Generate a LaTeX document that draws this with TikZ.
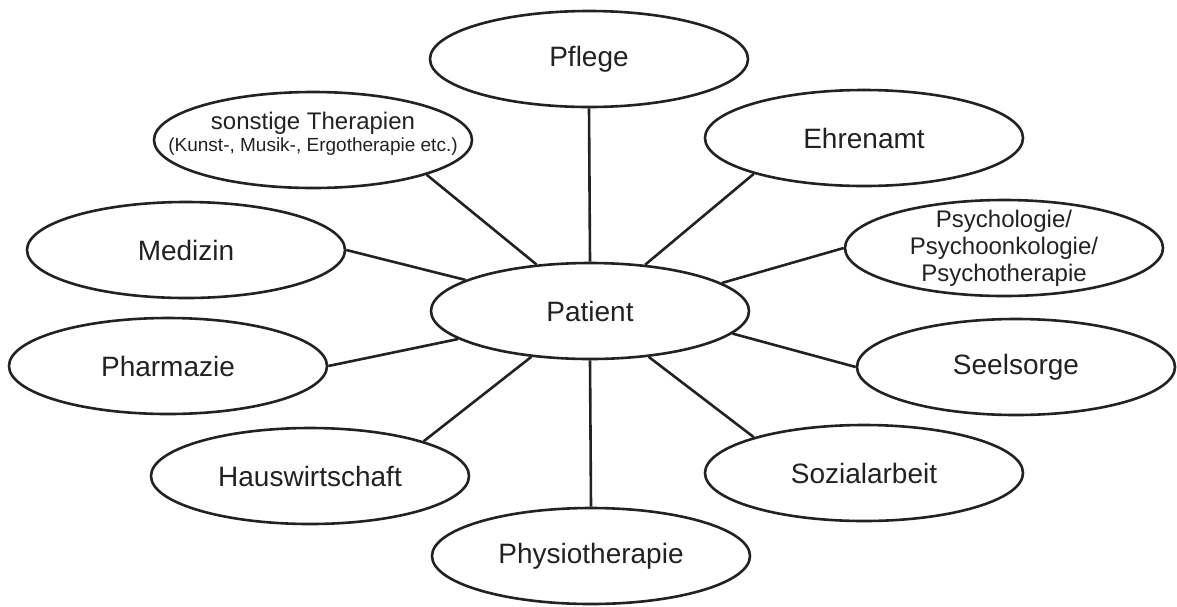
\documentclass[tikz,border=0pt]{standalone}
\usepackage{fontspec}
\setmainfont{Liberation Sans}
\usetikzlibrary{shapes.geometric}
\definecolor{ink}{HTML}{222222}
\begin{document}
\begin{tikzpicture}[x=1pt,y=-1pt,
  bubble/.style={ellipse, draw=ink, line width=2.6pt, minimum width=318pt, minimum height=96pt, inner sep=0pt, fill=white},
  lbl/.style={text=ink, font=\fontsize{28}{32}\selectfont, inner sep=0pt, align=center},
  mid/.style={text=ink, font=\fontsize{24}{27}\selectfont, inner sep=0pt, align=center},
  small/.style={text=ink, font=\fontsize{19}{22}\selectfont, inner sep=0pt, align=center},
  link/.style={draw=ink, line width=2.6pt}]
\useasboundingbox (0,0) rectangle (1177,606);

\node[bubble] (pflege) at (589,59) {};
\node[bubble] (ehrenamt) at (864,138) {};
\node[bubble] (sonstige) at (313,140) {};
\node[bubble] (medizin) at (186,250) {};
\node[bubble] (psych) at (1004,248) {};
\node[bubble] (patient) at (590,311) {};
\node[bubble] (pharmazie) at (168,366) {};
\node[bubble] (seelsorge) at (1016,367) {};
\node[bubble] (haus) at (310,476) {};
\node[bubble] (sozial) at (864,473) {};
\node[bubble] (physio) at (591,556) {};

\node[lbl] (pflege-t) at (pflege) {Pflege};
\node[lbl] (ehrenamt-t) at (ehrenamt) {Ehrenamt};
\node[mid] (sonstige-t1) at (313,123) {sonstige Therapien};
\node[small] (sonstige-t2) at (313,147) {(Kunst-, Musik-, Ergotherapie etc.)};
\node[lbl] (medizin-t) at (medizin) {Medizin};
\node[mid] (psych-t) at (psych) {Psychologie/\\Psychoonkologie/\\Psychotherapie};
\node[lbl] (patient-t) at (patient) {Patient};
\node[lbl] (pharmazie-t) at (pharmazie) {Pharmazie};
\node[lbl] (seelsorge-t) at (seelsorge) {Seelsorge};
\node[lbl] (haus-t) at (haus) {Hauswirtschaft};
\node[lbl] (sozial-t) at (sozial) {Sozialarbeit};
\node[lbl] (physio-t) at (physio) {Physiotherapie};

\draw[link] (pflege.south) -- (patient.north);
\draw[link] (sonstige.343) -- (patient.139);
\draw[link] (ehrenamt.198) -- (patient.40);
\draw[link] (psych.180) -- (patient.12);
\draw[link] (medizin.0) -- (patient.166);
\draw[link] (pharmazie.0) -- (patient.192);
\draw[link] (haus.17) -- (patient.218);
\draw[link] (physio.north) -- (patient.south);
\draw[link] (seelsorge.180) -- (patient.351);
\draw[link] (sozial.162) -- (patient.322);
\end{tikzpicture}
\end{document}
